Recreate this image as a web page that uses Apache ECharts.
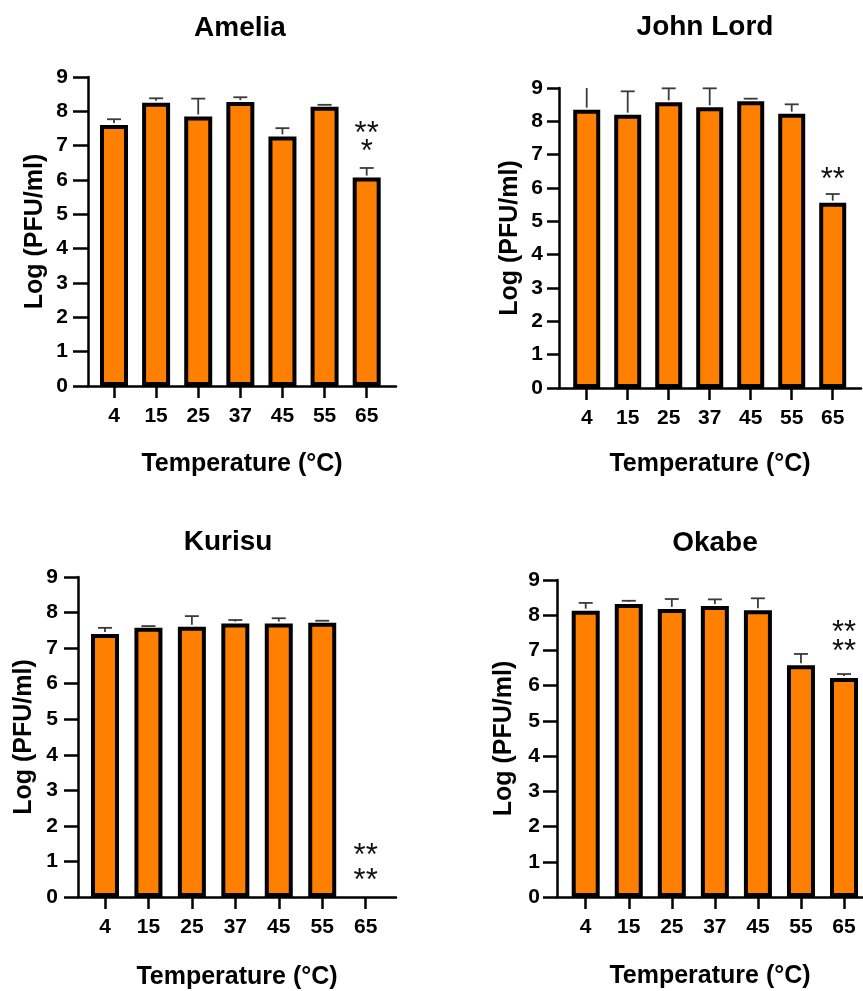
<!DOCTYPE html>
<html>
<head>
<meta charset="utf-8">
<style>
html,body{margin:0;padding:0;background:#fff;}
#chart{width:863px;height:991px;}
</style>
<script src="https://cdn.jsdelivr.net/npm/echarts@6/dist/echarts.min.js"></script>
</head>
<body>
<div id="chart"></div>
<script>
// ---- data ----
const categories = ['4', '15', '25', '37', '45', '55', '65'];
const yTicks = [0, 1, 2, 3, 4, 5, 6, 7, 8, 9];

const amelia     = [7.60, 8.25, 7.85, 8.27, 7.27, 8.13, 6.07];
const ameliaErr  = [0.17, 0.13, 0.52, 0.14, 0.24, 0.06, 0.28];
const johnLord    = [8.35, 8.20, 8.57, 8.42, 8.60, 8.23, 5.56];
const johnLordErr = [0.70, 0.70, 0.42, 0.57, 0.08, 0.28, 0.26];
const kurisu     = [7.40, 7.57, 7.60, 7.69, 7.69, 7.71, 0];
const kurisuErr  = [0.17, 0.05, 0.30, 0.10, 0.15, 0.06, 0];
const okabe      = [8.13, 8.32, 8.18, 8.26, 8.14, 6.58, 6.22];
const okabeErr   = [0.22, 0.09, 0.28, 0.19, 0.34, 0.32, 0.11];

// significance marks: [category index, y level, text]
const ameliaStars   = [[6, 7.50, '**'], [6, 6.98, '*']];
const johnLordStars = [[6, 6.42, '**']];
const kurisuStars   = [[6, 1.30, '**'], [6, 0.61, '**']];
const okabeStars    = [[6, 7.66, '**'], [6, 7.12, '**']];

const titles = ['Amelia', 'John Lord', 'Kurisu', 'Okabe'];
const xTitle = 'Temperature (°C)';
const yTitle = 'Log (PFU/ml)';

// ---- layout ----
const FONT = '"Liberation Sans", Arial, Helvetica, sans-serif';
const ORANGE = '#FF8000';
const panels = [
  { title: titles[0], values: amelia, errs: ameliaErr, stars: ameliaStars,
    grid: { left: 88, top: 77, width: 308, height: 309 }, xMin: -0.617, xMax: 6.696,
    titlePos: [240, 28], tickLen: 15, yMargin: 20, yNameGap: 40, xNameGap: 66, barW: 24 },
  { title: titles[1], values: johnLord, errs: johnLordErr, stars: johnLordStars,
    grid: { left: 559, top: 88, width: 302, height: 300 }, xMin: -0.676, xMax: 6.69,
    titlePos: [705, 27], tickLen: 12, yMargin: 16, yNameGap: 36, xNameGap: 64, barW: 23 },
  { title: titles[2], values: kurisu, errs: kurisuErr, stars: kurisuStars,
    grid: { left: 78, top: 577, width: 318, height: 320 }, xMin: -0.621, xMax: 6.698,
    titlePos: [228, 542], tickLen: 14, yMargin: 20, yNameGap: 41, xNameGap: 68, barW: 24 },
  { title: titles[3], values: okabe, errs: okabeErr, stars: okabeStars,
    grid: { left: 557, top: 580, width: 306, height: 317 }, xMin: -0.667, xMax: 6.441,
    titlePos: [715, 543], tickLen: 14, yMargin: 17, yNameGap: 40, xNameGap: 67, barW: 24 }
];

const grids = [], xAxes = [], yAxes = [], series = [], graphics = [];
const idx = categories.map((c, i) => i);

panels.forEach((p, k) => {
  grids.push(Object.assign({ containLabel: false }, p.grid));
  xAxes.push({
    type: 'value', gridIndex: k, min: p.xMin, max: p.xMax,
    splitLine: { show: false },
    axisLine: { show: true, onZero: false, lineStyle: { color: '#000', width: 2.5 } },
    axisTick: { show: true, customValues: idx, length: 12, lineStyle: { color: '#000', width: 2.5 } },
    axisLabel: { show: true, customValues: idx, margin: 20, color: '#000',
      fontFamily: FONT, fontWeight: 'bold', fontSize: 21,
      formatter: v => categories[Math.round(v)] },
    name: xTitle, nameLocation: 'middle', nameGap: p.xNameGap,
    nameTextStyle: { color: '#000', fontFamily: FONT, fontWeight: 'bold', fontSize: 25 }
  });
  yAxes.push({
    type: 'value', gridIndex: k, min: yTicks[0], max: yTicks[yTicks.length - 1], interval: 1,
    splitLine: { show: false },
    axisLine: { show: true, onZero: false, lineStyle: { color: '#000', width: 2.5 } },
    axisTick: { show: true, length: p.tickLen, lineStyle: { color: '#000', width: 2.5 } },
    axisLabel: { margin: p.yMargin, color: '#000', fontFamily: FONT, fontWeight: 'bold', fontSize: 21 },
    name: yTitle, nameLocation: 'middle', nameGap: p.yNameGap,
    nameTextStyle: { color: '#000', fontFamily: FONT, fontWeight: 'bold', fontSize: 25 }
  });

  // bars
  series.push({
    type: 'bar', xAxisIndex: k, yAxisIndex: k, barWidth: p.barW + 4,
    data: p.values.map((v, i) => [i, v > 0 ? v : null]),
    itemStyle: { color: ORANGE, borderColor: '#000', borderWidth: 4 },
    emphasis: { disabled: true }, silent: true, z: 2
  });

  // error bars (upper only, clipped at axis max)
  const yMax = yTicks[yTicks.length - 1];
  series.push({
    type: 'custom', xAxisIndex: k, yAxisIndex: k, silent: true, z: 3,
    data: p.values.map((v, i) => [i, v, p.errs[i]]),
    renderItem: (params, api) => {
      const i = api.value(0), v = api.value(1), e = api.value(2);
      if (!(v > 0) || !(e > 0)) return null;
      const topV = Math.min(v + e, yMax);
      const b = api.coord([i, v]);
      const t = api.coord([i, topV]);
      const children = [{
        type: 'line', shape: { x1: b[0], y1: b[1] - 2, x2: t[0], y2: t[1] },
        style: { stroke: '#3a3a3a', lineWidth: 1.8 }
      }];
      if (v + e <= yMax) {
        children.push({
          type: 'line', shape: { x1: t[0] - 7, y1: t[1], x2: t[0] + 7, y2: t[1] },
          style: { stroke: '#3a3a3a', lineWidth: 1.8 }
        });
      }
      return { type: 'group', children };
    }
  });

  // significance stars
  series.push({
    type: 'custom', xAxisIndex: k, yAxisIndex: k, silent: true, z: 4,
    data: p.stars.map(s => [s[0], s[1], s[2]]),
    renderItem: (params, api) => {
      const c = api.coord([api.value(0), api.value(1)]);
      const s = p.stars[params.dataIndex][2];
      return {
        type: 'text', x: c[0], y: c[1] + 6,
        style: { text: s, fill: '#111', font: '31px ' + FONT, align: 'center', verticalAlign: 'middle' }
      };
    }
  });

  graphics.push({
    type: 'text', x: p.titlePos[0], y: p.titlePos[1],
    style: { text: p.title, fill: '#000', font: 'bold 28px ' + FONT, align: 'center', verticalAlign: 'middle' }
  });
});

const chart = echarts.init(document.getElementById('chart'), null, { renderer: 'canvas' });
chart.setOption({
  backgroundColor: '#fff',
  animation: false,
  grid: grids,
  xAxis: xAxes,
  yAxis: yAxes,
  series: series,
  graphic: graphics
});
</script>
</body>
</html>
